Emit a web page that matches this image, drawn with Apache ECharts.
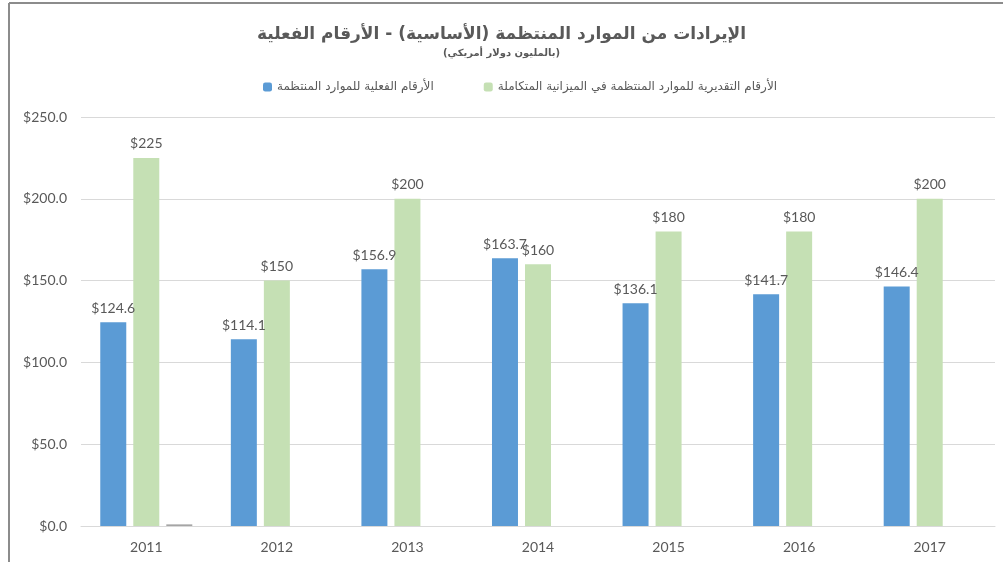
<!DOCTYPE html>
<html>
<head>
<meta charset="utf-8">
<script src="https://cdn.jsdelivr.net/npm/echarts@6/dist/echarts.min.js"></script>
<style>
  html, body { margin: 0; padding: 0; background: #fff; }
  #main { width: 1003px; height: 562px; }
</style>
</head>
<body>
<div id="main"></div>
<script>
var years = ['2011', '2012', '2013', '2014', '2015', '2016', '2017'];
var actual = [124.6, 114.1, 156.9, 163.7, 136.1, 141.7, 146.4];
var estimate = [225, 150, 200, 160, 180, 180, 200];
var other = [1, null, null, null, null, null, null];
var yTicks = [0, 50, 100, 150, 200, 250];

var chart = echarts.init(document.getElementById('main'));

var textColor = '#595959';
var arabicFont = 'DejaVu Sans';

var option = {
  animation: false,
  title: {
    text: 'الإيرادات من الموارد المنتظمة (الأساسية) - الأرقام الفعلية',
    subtext: '(بالمليون دولار أمريكي)',
    left: 'center',
    top: 21,
    itemGap: 5,
    textStyle: { fontFamily: arabicFont, fontSize: 17, fontWeight: 'bold', color: textColor },
    subtextStyle: { fontFamily: arabicFont, fontSize: 10, fontWeight: 'bold', color: textColor }
  },
  legend: {
    top: 76,
    left: 258,
    itemWidth: 9,
    itemHeight: 9,
    itemGap: 50,
    data: ['الأرقام الفعلية للموارد المنتظمة', 'الأرقام التقديرية للموارد المنتظمة في الميزانية المتكاملة'],
    textStyle: { fontFamily: arabicFont, fontSize: 12, color: textColor }
  },
  grid: { left: 81, right: 8, top: 117, bottom: 36 },
  xAxis: {
    type: 'category',
    data: years,
    axisTick: { show: false },
    axisLine: { lineStyle: { color: '#d9d9d9' } },
    axisLabel: { color: textColor, fontSize: 14, fontFamily: 'Lato', margin: 14 }
  },
  yAxis: {
    type: 'value',
    min: yTicks[0],
    max: yTicks[yTicks.length - 1],
    interval: 50,
    axisLine: { show: false },
    axisTick: { show: false },
    splitLine: { lineStyle: { color: '#d9d9d9' } },
    axisLabel: {
      color: textColor, fontSize: 14, fontFamily: 'Lato', margin: 14,
      formatter: function (v) { return '$' + v.toFixed(1); }
    }
  },
  series: [
    {
      name: 'الأرقام الفعلية للموارد المنتظمة',
      type: 'bar',
      data: actual,
      barWidth: 26,
      barGap: '27%',
      itemStyle: { color: '#5b9bd5' },
      label: {
        show: true, position: 'top', distance: 7,
        color: textColor, fontSize: 14, fontFamily: 'Lato',
        formatter: function (p) { return '$' + p.value.toFixed(1); }
      }
    },
    {
      name: 'الأرقام التقديرية للموارد المنتظمة في الميزانية المتكاملة',
      type: 'bar',
      data: estimate,
      barWidth: 26,
      barGap: '27%',
      itemStyle: { color: '#c5e0b4' },
      label: {
        show: true, position: 'top', distance: 7,
        color: textColor, fontSize: 14, fontFamily: 'Lato',
        formatter: function (p) { return '$' + p.value; }
      }
    },
    {
      name: 'other',
      type: 'bar',
      data: other,
      barWidth: 26,
      barGap: '27%',
      itemStyle: { color: '#a5a5a5' }
    }
  ],
  graphic: [
    { type: 'line', shape: { x1: 9, y1: 3, x2: 9, y2: 562 }, style: { stroke: '#8c8c8c', lineWidth: 2 } },
    { type: 'line', shape: { x1: 9, y1: 3, x2: 1003, y2: 3 }, style: { stroke: '#8c8c8c', lineWidth: 2 } }
  ]
};

chart.setOption(option);
</script>
</body>
</html>
